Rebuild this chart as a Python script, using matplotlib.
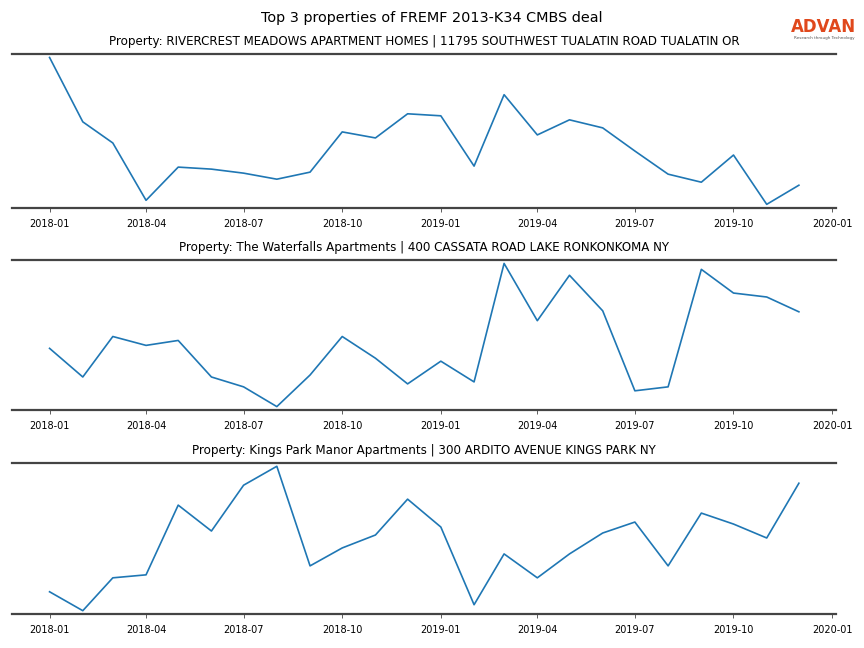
import pandas as pd
import matplotlib
matplotlib.use("Agg")
import matplotlib.pyplot as plt
import matplotlib.dates as mdates

months = pd.date_range("2018-01-01", periods=24, freq="MS")

titles = [
    "Property: RIVERCREST MEADOWS APARTMENT HOMES | 11795 SOUTHWEST TUALATIN ROAD TUALATIN OR",
    "Property: The Waterfalls Apartments | 400 CASSATA ROAD LAKE RONKONKOMA NY",
    "Property: Kings Park Manor Apartments | 300 ARDITO AVENUE KINGS PARK NY",
]

# visits per month (relative scale)
rivercrest = [150, 86, 65, 8, 41, 39, 35, 29, 36, 76, 70, 94,
              92, 42, 113, 73, 88, 80, 57, 34, 26, 53, 4, 23]
waterfalls = [61, 32, 73, 64, 69, 32, 22, 2, 34, 73, 51, 25,
              48, 27, 147, 89, 135, 99, 18, 22, 141, 117, 113, 98]
kings_park = [21, 2, 35, 38, 108, 82, 128, 147, 47, 65, 78, 114,
              86, 8, 59, 35, 59, 80, 91, 47, 100, 89, 75, 130]

series = [rivercrest, waterfalls, kings_park]

fig = plt.figure(figsize=(8.64, 6.48), dpi=100)
fig.suptitle("Top 3 properties of FREMF 2013-K34 CMBS deal", fontsize=10.4, y=0.983)

boxes = [(0.917, 0.679), (0.599, 0.367), (0.286, 0.052)]
for (top, bottom), vals, title in zip(boxes, series, titles):
    ax = fig.add_axes([0.014, bottom, 0.954, top - bottom])
    ax.plot(months, vals, color="#1f77b4", linewidth=1.2)
    ax.margins(x=0.05, y=0.025)
    ax.set_title(title, fontsize=8.55, pad=6.5)
    ax.set_yticks([])
    for side in ["left", "right"]:
        ax.spines[side].set_visible(False)
    for side in ["top", "bottom"]:
        ax.spines[side].set_color("#444444")
        ax.spines[side].set_linewidth(1.6)
    ax.xaxis.set_major_locator(mdates.MonthLocator(bymonth=[1, 4, 7, 10]))
    ax.xaxis.set_major_formatter(mdates.DateFormatter("%Y-%m"))
    ax.tick_params(axis="x", labelsize=7, length=3, width=0.6, color="#444444", pad=5)

# logo
fig.text(0.9535, 0.958, "ADVAN", color="#e0481c", fontsize=12, ha="center", va="center",
         fontweight="bold", family="DejaVu Sans")
fig.text(0.9535, 0.941, "Research through Technology", color="#555555", fontsize=3,
         ha="center", va="center")

fig.savefig("out.png", dpi=100)
